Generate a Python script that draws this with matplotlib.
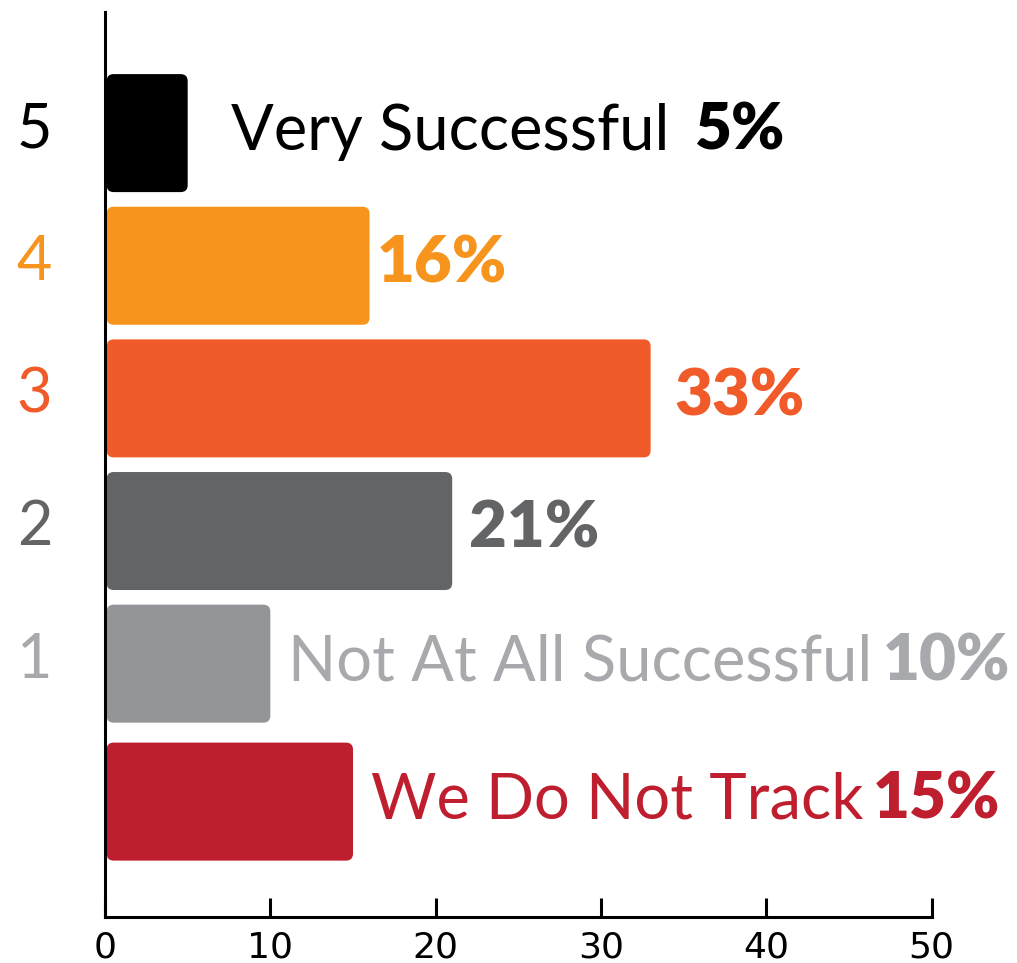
import matplotlib
matplotlib.use("Agg")
import matplotlib.pyplot as plt
from matplotlib.patches import FancyBboxPatch
from matplotlib.transforms import ScaledTranslation

# survey answers, top to bottom
ratings = ["5", "4", "3", "2", "1", ""]
names = ["Very Successful ", "", "", "", "Not At All Successful", "We Do Not Track"]
values = [5, 16, 33, 21, 10, 15]
bar_colors = ["#000000", "#F7941D", "#F15A29", "#636466", "#939598", "#BE1E2D"]
text_colors = ["#000000", "#F7941D", "#F15A29", "#636466", "#A7A9AC", "#BE1E2D"]
xticks = [0, 10, 20, 30, 40, 50]

ypos = [0, 1, 2, 3, 4, 5.04]
label_gap = [31, 5, 17, 12, 13, 13]   # points past the bar end

FONT = "Lato"
plt.rcParams["font.family"] = [FONT, "DejaVu Sans"]

W, H = 1017, 963
X0, X1, Y0, Y1 = 105, 931.7, 12, 917   # axes box in pixels (from top-left)
fig = plt.figure(figsize=(W / 100, H / 100), dpi=100)
ax = fig.add_axes([X0 / W, (H - Y1) / H, (X1 - X0) / W, (Y1 - Y0) / H])

ax.set_xlim(0, 50)
ax.set_ylim(5.91, -0.913)

# px -> data unit conversion for rounded corners
px_x = 50 / (X1 - X0)
px_y = (5.91 + 0.913) / (Y1 - Y0)
bar_h = 118 * px_y
r = 7 * px_x

for y, v, c in zip(ypos, values, bar_colors):
    p = FancyBboxPatch((0.1, y - bar_h / 2), v - 0.1, bar_h,
                       boxstyle=f"round,pad=0,rounding_size={r}",
                       mutation_aspect=px_y / px_x,
                       facecolor=c, edgecolor="none", zorder=2)
    ax.add_patch(p)

for y, v, name, col, gap in zip(ypos, values, names, text_colors, label_gap):
    pct = f"{v}%"
    if name:
        t1 = ax.annotate(name, xy=(v, y), xytext=(gap, -12), textcoords="offset points",
                         ha="left", va="baseline", fontsize=45.5, color=col)
        ax.annotate(pct, xy=(1, 0), xycoords=t1, xytext=(7, 0),
                    textcoords="offset points", ha="left", va="bottom",
                    fontsize=46, fontweight="heavy", color=col)
    else:
        ax.annotate(pct, xy=(v, y), xytext=(gap, -12), textcoords="offset points",
                    ha="left", va="baseline", fontsize=47, fontweight="heavy", color=col)

ax.set_yticks(ypos)
ax.set_yticklabels(ratings, fontsize=44)
ax.tick_params(axis="y", length=0, pad=38)
lift = ScaledTranslation(0, 9 / 100, fig.dpi_scale_trans)
for lab, col in zip(ax.get_yticklabels(), text_colors):
    lab.set_color(col)
    lab.set_transform(lab.get_transform() + lift)

ax.set_xticks(xticks)
ax.set_xticklabels([str(t) for t in xticks],
                   family=["Liberation Sans Narrow", "DejaVu Sans"], fontsize=26)
ax.tick_params(axis="x", direction="in", length=14, width=2.2, pad=10)

for s in ["top", "right"]:
    ax.spines[s].set_visible(False)
for s in ["left", "bottom"]:
    ax.spines[s].set_linewidth(2.2)

fig.savefig("out.png", dpi=100)
